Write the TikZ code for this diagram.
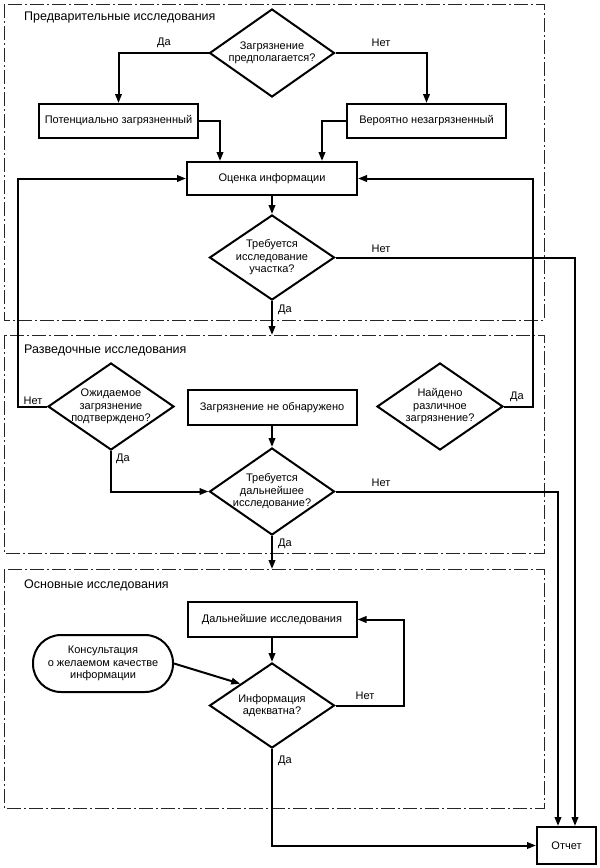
\documentclass[tikz,border=0pt]{standalone}
\usepackage{fontspec}
\setmainfont{Liberation Sans}
\usetikzlibrary{shapes.geometric,arrows.meta,calc}
\begin{document}
\begin{tikzpicture}[x=1pt,y=-1pt,
  ln/.style={line width=2pt},
  arr/.style={ln,-{Triangle[length=9pt,width=6.5pt]}},
  txt/.style={font=\fontsize{11}{12.5}\selectfont},
  box/.style={draw,line width=2pt,inner sep=2pt,align=center,txt},
  dia/.style={diamond,draw,line width=2pt,inner sep=-4pt,align=center,txt,shape aspect=1.45,minimum width=125pt,minimum height=87pt},
  frame/.style={draw=black!85,line width=0.9pt,dash pattern=on 14pt off 3pt on 2pt off 3pt},
  lab/.style={txt,inner sep=0pt},
  title/.style={font=\fontsize{12.5}{14}\selectfont,inner sep=0pt,anchor=west}]
\useasboundingbox (0,0) rectangle (600,868);
% section frames
\draw[frame] (4,4) rectangle (544,320);
\draw[frame] (4,335) rectangle (544,553);
\draw[frame] (4,569) rectangle (544,808);
\node[title] (t1) at (24,17) {Предварительные исследования};
\node[title] (t2) at (24,350) {Разведочные исследования};
\node[title] (t3) at (24,585) {Основные исследования};
\coordinate (s2top) at (272,335);
\coordinate (s3top) at (272,569);
% nodes
\node[dia,minimum height=88pt] (d1) at (272,53) {Загрязнение\\предполагается?};
\node[box,minimum width=159pt,minimum height=34pt] (pot) at (118.5,121) {Потенциально загрязненный};
\node[box,minimum width=159pt,minimum height=34pt] (ver) at (426.5,121) {Вероятно незагрязненный};
\node[box,minimum width=170pt,minimum height=33pt] (oc) at (272,178.5) {Оценка информации};
\node[dia,minimum height=85pt] (d2) at (272,257.5) {Требуется\\исследование\\участка?};
\node[dia,minimum width=126pt] (dexp) at (111,406.5) {Ожидаемое\\загрязнение\\подтверждено?};
\node[box,minimum width=169pt,minimum height=35pt] (nd) at (272,407.5) {Загрязнение не обнаружено};
\node[dia,minimum width=126pt] (dfound) at (440,406.5) {Найдено\\различное\\загрязнение?};
\node[dia] (d3) at (272,491.5) {Требуется\\дальнейшее\\исследование?};
\node[box,minimum width=169pt,minimum height=35pt] (dal) at (272,619.5) {Дальнейшие исследования};
\node[draw,line width=2pt,rounded corners=28pt,minimum width=140pt,minimum height=57pt,inner sep=2pt,align=center,txt] (cons) at (103,663.5) {Консультация\\о желаемом качестве\\информации};
\node[dia,minimum height=85pt] (d4) at (272,705.5) {Информация\\адекватна?};
\node[box,minimum width=59pt,minimum height=37pt] (rep) at (566.5,845.5) {Отчет};
% connectors
\draw[arr] (d1.west) -| (pot.north);
\draw[arr] (d1.east) -| (ver.north);
\draw[arr] (pot.east) -| ([xshift=-52pt]oc.north);
\draw[arr] (ver.west) -| ([xshift=50pt]oc.north);
\draw[arr] (oc.south) -- (d2.north);
\draw[arr] (d2.east) -| ([xshift=8.5pt]rep.north);
\draw[arr] (d2.south) -- (s2top);
\draw[arr] (dexp.west) -- ++(-29,0) |- (oc.west);
\draw[arr] (dfound.east) -- ++(29,0) |- (oc.east);
\draw[arr] (dexp.south) |- (d3.west);
\draw[arr] (nd.south) -- (d3.north);
\draw[arr] (d3.east) -| ([xshift=-8.5pt]rep.north);
\draw[arr] (d3.south) -- (s3top);
\draw[arr] (dal.south) -- (d4.north);
\draw[arr] (cons.east) -- (d4.north west);
\draw[arr] (d4.east) -- ++(68,0) |- (dal.east);
\draw[arr] (d4.south) |- (rep.west);
% labels
\node[lab] (l1) at (164,43) {Да};
\node[lab] (l2) at (381,43) {Нет};
\node[lab] (l3) at (381,249) {Нет};
\node[lab] (l4) at (285,310) {Да};
\node[lab] (l5) at (33,401) {Нет};
\node[lab] (l6) at (517,397) {Да};
\node[lab] (l7) at (123,459) {Да};
\node[lab] (l8) at (381,483) {Нет};
\node[lab] (l9) at (285,544) {Да};
\node[lab] (l10) at (365,696) {Нет};
\node[lab] (l11) at (285,761) {Да};
\end{tikzpicture}
\end{document}
